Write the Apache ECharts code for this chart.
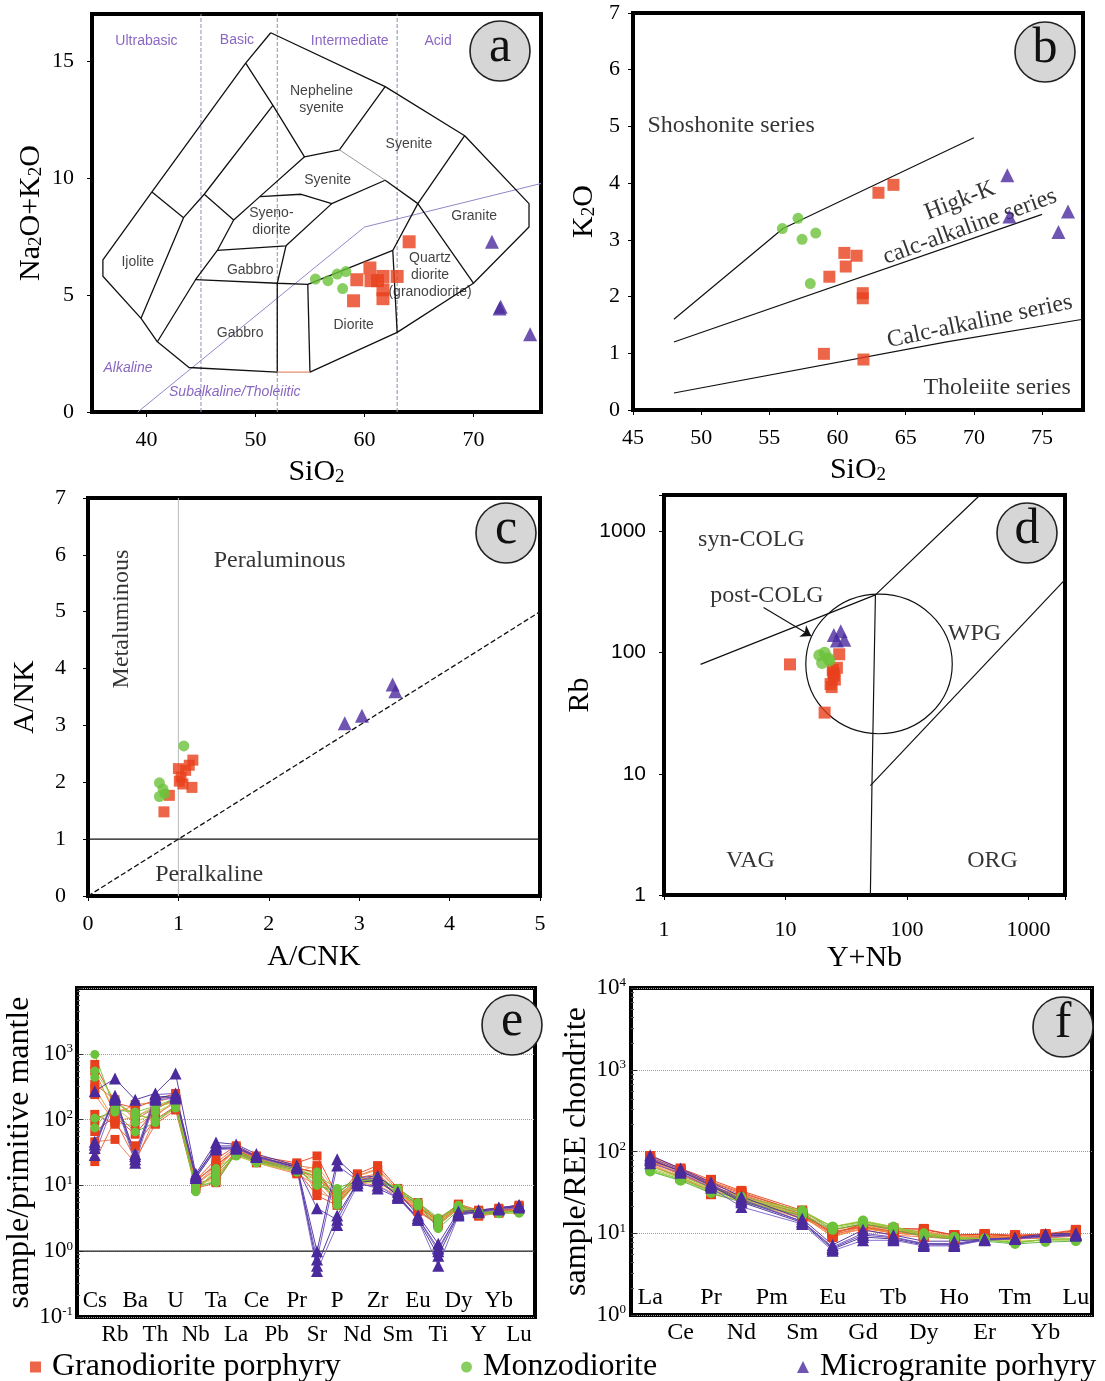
<!DOCTYPE html>
<html>
<head>
<meta charset="utf-8">
<title>Geochemical diagrams</title>
<script src="https://cdn.jsdelivr.net/npm/echarts@6.0.0/dist/echarts.min.js"></script>
<style>
  html, body { margin: 0; padding: 0; background: #fff; }
  #chart { width: 1105px; height: 1381px; }
</style>
</head>
<body>
<div id="chart"></div>
<script>
// ---------- values ----------
const G1 = 'Granodiorite porphyry', G2 = 'Monzodiorite', G3 = 'Microgranite porhyry';

// (a) TAS (Middlemost plutonic)
const tasGrano = [[64.1, 7.27], [60.5, 6.15], [59.3, 5.65], [60.6, 5.61], [61.7, 5.79], [63.0, 5.79], [61.7, 5.22], [61.7, 4.84], [59.0, 4.75], [61.2, 5.61]];
const tasMonzo = [[55.5, 5.68], [56.65, 5.61], [57.5, 5.89], [58.3, 6.0], [58.0, 5.27]];
const tasMicro = [[71.7, 7.27], [72.5, 4.5], [72.4, 4.42], [75.2, 3.32]];
const tasLines = [
  [[51.4, 16.2], [61.9, 13.9], [69.2, 11.8], [75.1, 8.9], [75.1, 7.9], [70, 5.5], [63, 3.4], [55, 1.7]],
  [[52, 1.7], [43.9, 1.9], [41, 3.0], [39.5, 4.0], [36, 5.8], [36, 6.5], [40.5, 9.4], [49.1, 14.9], [51.4, 16.2]],
  [[49.1, 14.9], [51.6, 13.1], [54.5, 10.9], [57.7, 11.2], [61.9, 13.9]],
  [[51.6, 13.1], [45.3, 9.3], [43.4, 8.3], [39.5, 4.0]],
  [[40.5, 9.4], [43.4, 8.3]],
  [[45.3, 9.3], [48, 8.2]],
  [[54.5, 10.9], [50.4, 9.2], [48, 8.2], [46.5, 6.9], [44.5, 5.65], [41, 3.0]],
  [[50.4, 9.2], [54.2, 9.3], [57, 8.9], [61.9, 9.9], [64.9, 8.9], [70, 5.5]],
  [[69.2, 11.8], [64.9, 8.9], [62.6, 6.9], [63, 3.4]],
  [[46.5, 6.9], [52.8, 7.1], [57, 8.9]],
  [[52.8, 7.1], [52, 5.5]],
  [[44.5, 5.65], [52, 5.5], [54.8, 5.45], [62.6, 6.9]],
  [[52, 5.5], [52, 1.7]],
  [[54.8, 5.45], [55, 1.7]]
];
const tasGreyLine = [[57.7, 11.2], [61.9, 9.9]];
const tasBaseLine = [[52, 1.7], [55, 1.7]];
const tasAlkaline = [[39.2, 0], [60, 7.9], [76.2, 9.76]];
const tasDivides = [45, 52, 63];
const tasZones = [['Ultrabasic', 40.0, 15.84], ['Basic', 48.3, 15.88], ['Intermediate', 58.65, 15.84], ['Acid', 66.76, 15.84]];
const tasAlkNames = [['Alkaline', 38.3, 1.89], ['Subalkaline/Tholeiitic', 48.1, 0.86]];
const tasRocks = [
  ['Nepheline\nsyenite', 56.06, 13.35], ['Syenite', 64.08, 11.42], ['Syenite', 56.62, 9.91],
  ['Syeno-\ndiorite', 51.46, 8.15], ['Ijolite', 39.2, 6.39], ['Gabbro', 49.52, 6.05],
  ['Gabbro', 48.6, 3.35], ['Diorite', 59.01, 3.73], ['Quartz\ndiorite\n(granodiorite)', 66.02, 5.84],
  ['Granite', 70.07, 8.37]
];

// (b) SiO2 - K2O
const kGrano = [[63.0, 3.83], [64.1, 3.97], [60.5, 2.77], [61.4, 2.72], [60.6, 2.53], [59.4, 2.35], [61.85, 2.06], [61.85, 1.97], [59.0, 0.99], [61.9, 0.89]];
const kMonzo = [[55.95, 3.2], [57.1, 3.38], [57.4, 3.01], [58.4, 3.12], [58.0, 2.23]];
const kMicro = [[72.45, 4.14], [72.6, 3.41], [76.9, 3.5], [76.2, 3.14]];
const kLines = [[[48, 1.6], [56, 3.2], [70, 4.8]], [[48, 1.2], [75, 3.45]], [[48, 0.3], [68, 1.2], [78, 1.6]]];
const kNames = [['Shoshonite series', 52.2, 5.01, 0], ['Higk-K', 68.97, 3.69, 21], ['calc-alkaline series', 69.7, 3.23, 20], ['Calc-alkaline series', 70.43, 1.56, 12], ['Tholeiite series', 71.7, 0.4, 0]];

// (c) A/CNK - A/NK
const acGrano = [[1.16, 2.39], [1.0, 2.24], [1.08, 2.21], [1.03, 2.09], [1.05, 1.97], [1.15, 1.91], [0.9, 1.77], [0.84, 1.48], [1.12, 2.3], [1.01, 2.02]];
const acMonzo = [[0.79, 1.99], [0.83, 1.88], [0.79, 1.75], [0.85, 1.8], [1.06, 2.64]];
const acMicro = [[2.84, 3.04], [3.03, 3.17], [3.37, 3.72], [3.4, 3.6]];
const acNames = [['Peraluminous', 2.12, 5.9, 0], ['Metaluminous', 0.37, 4.87, 90], ['Peralkaline', 1.34, 0.38, 0]];

// (d) Y+Nb - Rb
const dGrano = [[10.9, 80], [27.7, 97], [21, 32], [24.5, 72], [25.5, 60], [24, 52], [25, 65], [23.5, 55], [26.5, 75], [24.8, 68]];
const dMonzo = [[19, 95], [21, 100], [22.5, 90], [20, 82], [23, 86]];
const dMicro = [[25, 140], [28.5, 150], [26.5, 126], [30.5, 128]];
const dLines = [[[2, 80], [55, 300], [400, 2000]], [[55, 300], [51.5, 8], [50, 1]], [[50, 8], [2000, 400]]];
const dArrow = [[6.6, 236], [16.3, 137]];
const dCircleCenter = [58.9, 80.7], dCircleLeft = [14.7, 80.7], dCircleTop = [58.9, 304];
const dNames = [['syn-COLG', 5.24, 852], ['post-COLG', 7.05, 293], ['WPG', 360, 142], ['VAG', 5.15, 1.91], ['ORG', 507, 1.91]];

// (e) primitive-mantle normalised spider diagram (Pb not plotted)
const elemsE = ['Cs', 'Rb', 'Ba', 'Th', 'U', 'Nb', 'Ta', 'La', 'Ce', 'Pb', 'Pr', 'Sr', 'P', 'Nd', 'Zr', 'Sm', 'Eu', 'Ti', 'Dy', 'Y', 'Yb', 'Lu'];
const eGrano = [
  [690, 180, 150, 200, 250, 12, 25, 40, 28, null, 22, 28, 7, 15, 20, 9, 5.5, 3.0, 5.2, 4.2, 4.5, 5.0],
  [550, 120, 170, 180, 230, 11, 22, 38, 27, null, 20, 18, 6, 14, 18, 8.5, 5.0, 2.8, 5.0, 4.0, 4.2, 4.8],
  [345, 200, 100, 150, 200, 10, 20, 36, 26, null, 19, 15, 6.5, 13, 15, 8, 4.8, 2.6, 4.8, 3.8, 4.0, 4.5],
  [240, 90, 80, 120, 180, 10, 18, 35, 25, null, 18, 12, 5.5, 12, 13, 8, 4.5, 2.7, 4.6, 3.6, 4.0, 4.4],
  [120, 85, 40, 100, 160, 9, 15, 33, 24, null, 17, 7, 5, 12, 12, 7.5, 4.2, 2.5, 4.5, 3.5, 3.8, 4.2],
  [94, 150, 130, 90, 150, 11, 12, 32, 23, null, 16, 20, 7.5, 13, 11, 7.5, 4.5, 2.8, 4.8, 3.7, 3.9, 4.3],
  [66, 110, 60, 140, 220, 12, 20, 34, 25, null, 18, 16, 6, 12, 14, 8, 4.8, 2.9, 5.0, 3.9, 4.1, 4.6],
  [46, 50, 22, 110, 200, 10, 14, 30, 22, null, 15, 10, 5, 11, 10, 7, 4.0, 2.5, 4.4, 3.4, 3.8, 4.2],
  [23, 100, 25, 85, 140, 9, 11, 31, 23, null, 16, 14, 5.5, 11, 12, 7, 4.2, 2.6, 4.5, 3.6, 3.9, 4.3],
  [300, 95, 110, 160, 190, 11, 17, 37, 26, null, 21, 8, 6, 14, 17, 8.5, 5.0, 2.9, 5.1, 4.1, 4.3, 4.7]
];
const eMonzo = [
  [980, 140, 130, 160, 210, 9, 16, 30, 23, null, 17, 14, 9, 12, 13, 9, 5.5, 3.2, 5.0, 4.0, 4.0, 4.0],
  [550, 200, 110, 150, 190, 8, 18, 29, 22, null, 16, 12, 6, 11, 12, 8.5, 5.0, 3.0, 4.6, 3.8, 3.8, 3.8],
  [440, 150, 90, 130, 180, 9, 14, 28, 22, null, 16, 16, 5, 11, 11, 8, 4.8, 2.6, 4.4, 3.6, 3.7, 3.8],
  [105, 130, 65, 90, 160, 10, 11, 32, 24, null, 18, 10, 8, 12, 12, 8.5, 5.2, 2.2, 4.2, 3.7, 3.9, 4.0],
  [75, 180, 120, 100, 150, 9, 12, 33, 25, null, 18, 13, 7, 12, 12, 9, 5.4, 2.9, 4.8, 3.9, 4.0, 4.1]
];
const eMicro = [
  [270, 420, 200, 250, 500, 15, 45, 42, 30, null, 20, 1.0, 25, 13, 14, 8, 3.5, 1.3, 4.0, 4.2, 4.6, 5.0],
  [46, 220, 30, 240, 250, 14, 40, 40, 28, null, 19, 0.75, 20, 12, 13, 7, 3.2, 1.0, 3.8, 4.0, 4.5, 4.9],
  [42, 210, 25, 220, 230, 14, 38, 38, 27, null, 19, 0.6, 3.5, 11, 12, 7, 3.0, 0.85, 3.6, 4.0, 4.4, 4.8],
  [29, 200, 22, 200, 210, 13, 35, 36, 27, null, 18, 0.5, 2.5, 10, 10, 6.5, 3.0, 0.6, 3.5, 3.9, 4.3, 4.6],
  [37, 230, 28, 210, 220, 13, 36, 37, 28, null, 19, 4.5, 3.0, 11, 9, 6.5, 3.2, 1.1, 3.7, 4.1, 4.5, 5.0]
];

// (f) chondrite-normalised REE (Pm not plotted)
const elemsF = ['La', 'Ce', 'Pr', 'Nd', 'Pm', 'Sm', 'Eu', 'Gd', 'Tb', 'Dy', 'Ho', 'Er', 'Tm', 'Yb', 'Lu'];
const fGrano = [
  [88, 62, 45, 33, null, 19, 11, 13, 11, 11, 9.5, 9.8, 9.5, 9.8, 11],
  [85, 60, 43, 32, null, 18, 10, 12.5, 10.5, 10.5, 9.2, 9.5, 9.3, 9.5, 10.5],
  [80, 58, 40, 30, null, 17, 9.5, 12, 10, 10, 9, 9.2, 9, 9.3, 10],
  [78, 55, 38, 28, null, 16.5, 9, 11.5, 10, 9.5, 8.8, 9, 8.8, 9, 9.8],
  [75, 52, 36, 27, null, 16, 10.5, 12, 10.5, 9.8, 8.5, 8.8, 8.6, 8.8, 9.5],
  [72, 50, 30, 25, null, 15, 11, 12.5, 11, 10.5, 9, 9.5, 9, 9, 10],
  [82, 57, 42, 31, null, 18, 9.8, 13, 11.5, 11.3, 9.5, 9.7, 9.2, 9.6, 10.8],
  [70, 48, 34, 26, null, 15.5, 10, 11, 9.5, 9, 8.5, 8.5, 8.5, 8.7, 9.2],
  [76, 53, 37, 29, null, 17, 10.2, 12, 10, 9.7, 8.7, 9, 8.8, 9.1, 9.6],
  [68, 47, 33, 27, null, 16, 9.2, 11.5, 10.2, 9.3, 8.6, 8.8, 8.7, 8.9, 9.3]
];
const fMonzo = [
  [60, 46, 33, 26, null, 18, 12, 14, 12, 10, 9, 8.5, 7.5, 8.5, 8.5],
  [58, 45, 32, 25, null, 17, 11.5, 13.5, 11.5, 9.5, 8.8, 8.2, 7.8, 8.2, 8.2],
  [62, 48, 35, 27, null, 18.5, 12, 14.3, 12, 9.8, 9, 8.6, 8, 8.3, 8.4],
  [57, 44, 31, 24, null, 16.5, 11, 13, 11, 9.2, 8.5, 8, 7.4, 7.8, 8],
  [65, 50, 36, 28, null, 19, 12, 13.8, 11.8, 9.6, 8.9, 8.4, 7.7, 8.4, 8.6]
];
const fMicro = [
  [90, 62, 42, 28, null, 15, 7.2, 11, 9.5, 8, 8, 8.5, 8.8, 9.8, 10],
  [84, 60, 40, 26, null, 14, 6.8, 10, 9, 7.5, 7.5, 8.5, 8.7, 9.5, 9.8],
  [78, 58, 38, 24, null, 13.5, 6.4, 9, 8.5, 7.2, 7.2, 8.3, 8.6, 9.3, 9.5],
  [72, 55, 36, 21, null, 13, 6.1, 8.2, 8.2, 7, 7, 8.2, 8.5, 9, 9.3],
  [80, 57, 39, 25, null, 14, 6.6, 9.5, 8.8, 7.4, 7.3, 8.4, 8.6, 9.4, 9.6]
];

// ---------- styling ----------
const SERIF = "'Liberation Serif', 'Times New Roman', serif";
const SANS = "'Liberation Sans', Arial, sans-serif";
const RED = '#e8401c', GREEN = '#6cc23a', BLUE = '#4b2a9e', PURPLE = '#6a3fb0';
const redLines = ['#e8401c', '#f26b2c', '#ea5a3a', '#f08040', '#e0502a', '#f5a050', '#d8401a', '#ef7050', '#e86030', '#f09040'];
const greenLines = ['#6cc23a', '#9ccc3c', '#b8c840', '#5ab040', '#88c030'];
const blueLines = ['#4a2a9c', '#6a4ab8', '#3a2a8c', '#7a5ac8', '#5a3aac'];

function boundary(gi, pts, color, width, type) {
  return {
    type: 'line', xAxisIndex: gi, yAxisIndex: gi, data: pts, symbol: 'none', silent: true, z: 2,
    lineStyle: { color: color || '#000', width: width || 1.2, type: type || 'solid' }
  };
}
function samples(gi, name, pts, symbol, size, color) {
  return {
    type: 'scatter', name: name, xAxisIndex: gi, yAxisIndex: gi, data: pts,
    symbol: symbol, symbolSize: size, itemStyle: { color: color }, silent: true, z: 5
  };
}
function texts(gi, items, style) {
  return {
    type: 'scatter', xAxisIndex: gi, yAxisIndex: gi, symbolSize: 1, silent: true, z: 4,
    itemStyle: { color: 'rgba(0,0,0,0)' },
    data: items.map(t => ({ name: t[0], value: [t[1], t[2]], label: t[3] ? { rotate: t[3] } : {} })),
    label: Object.assign({ show: true, position: 'inside', formatter: p => p.name, color: '#000' }, style)
  };
}
function spider(gi, name, rows, symbol, size, color, lineColors) {
  return rows.map((row, i) => ({
    type: 'line', name: name, xAxisIndex: gi, yAxisIndex: gi,
    data: row.map((v, j) => [j, v]), connectNulls: true,
    symbol: symbol, symbolSize: size, itemStyle: { color: color },
    lineStyle: { color: lineColors[i % lineColors.length], width: 0.9 }, silent: true, z: 3
  }));
}

const nameStyle = {
  fontFamily: SERIF, fontSize: 30, color: '#000',
  rich: {
    n: { fontFamily: SERIF, fontSize: 30, color: '#000', lineHeight: 30, verticalAlign: 'top' },
    s: { fontFamily: SERIF, fontSize: 19, color: '#000', lineHeight: 19, verticalAlign: 'bottom', padding: [16, 0, 0, 0] }
  }
};
const tickLabel = (size, margin, extra) => Object.assign({ color: '#000', fontFamily: SERIF, fontSize: size, margin: margin }, extra || {});
const isPow10 = v => Math.abs(Math.log10(v) - Math.round(Math.log10(v))) < 1e-6;
const powLabel = (maxExp) => v => {
  if (!isPow10(v)) return '';
  const e = Math.round(Math.log10(v));
  return e > maxExp ? '' : '{b|10}{p|' + e + '}';
};
const powRich = { b: { fontFamily: SERIF, fontSize: 23, color: '#000' }, p: { fontFamily: SERIF, fontSize: 13, color: '#000', verticalAlign: 'top' } };
const tick = { show: true, length: 5, lineStyle: { color: '#000', width: 1 } };
const noLine = { show: false, onZero: false };

function range(a, b, s) { const r = []; for (let v = a; v <= b + 1e-9; v += s) r.push(v); return r; }

const xAxis = [
  { gridIndex: 0, type: 'value', position: 'bottom', min: 35, max: 76.2, axisLine: noLine, splitLine: { show: false },
    axisTick: Object.assign({ customValues: [40, 50, 60, 70] }, tick),
    axisLabel: tickLabel(22, 17, { customValues: [40, 50, 60, 70] }),
    name: '{n|SiO}{s|2}', nameLocation: 'middle', nameGap: 42, nameTextStyle: nameStyle },
  { gridIndex: 1, type: 'value', position: 'bottom', min: 45, max: 78, axisLine: noLine, splitLine: { show: false },
    axisTick: Object.assign({ customValues: range(45, 75, 5) }, tick),
    axisLabel: tickLabel(22, 17, { customValues: range(45, 75, 5) }),
    name: '{n|SiO}{s|2}', nameLocation: 'middle', nameGap: 42, nameTextStyle: nameStyle },
  { gridIndex: 2, type: 'value', position: 'bottom', min: 0, max: 5, interval: 1, axisLine: noLine, splitLine: { show: false },
    axisTick: tick, axisLabel: tickLabel(22, 17),
    name: 'A/CNK', nameLocation: 'middle', nameGap: 46, nameTextStyle: nameStyle },
  { gridIndex: 3, type: 'log', position: 'bottom', min: 1, max: 2000, axisLine: noLine, splitLine: { show: false },
    axisTick: tick, axisLabel: tickLabel(22, 24, { formatter: v => isPow10(v) ? String(Math.round(v)) : '' }),
    name: 'Y+Nb', nameLocation: 'middle', nameGap: 48, nameTextStyle: nameStyle },
  { gridIndex: 4, type: 'value', position: 'bottom', min: -0.88, max: 21.79, axisLine: noLine, splitLine: { show: false },
    axisTick: { show: false },
    axisLabel: tickLabel(23, 6, { customValues: range(1, 21, 2), formatter: v => elemsE[Math.round(v)] }) },
  { gridIndex: 5, type: 'value', position: 'bottom', min: -0.63, max: 14.53, axisLine: noLine, splitLine: { show: false },
    axisTick: { show: false },
    axisLabel: tickLabel(24, 6, { customValues: range(1, 13, 2), formatter: v => elemsF[Math.round(v)] }) },
  { gridIndex: 4, type: 'value', position: 'bottom', min: -0.88, max: 21.79, axisLine: noLine, splitLine: { show: false },
    axisTick: { show: false },
    axisLabel: tickLabel(23, 5, { inside: true, customValues: range(0, 20, 2), formatter: v => elemsE[Math.round(v)] }) },
  { gridIndex: 5, type: 'value', position: 'bottom', min: -0.63, max: 14.53, axisLine: noLine, splitLine: { show: false },
    axisTick: { show: false },
    axisLabel: tickLabel(24, 5, { inside: true, customValues: range(0, 14, 2), formatter: v => elemsF[Math.round(v)] }) }
];

const yAxis = [
  { gridIndex: 0, type: 'value', position: 'left', min: 0, max: 17, axisLine: noLine, splitLine: { show: false },
    axisTick: Object.assign({ customValues: [0, 5, 10, 15] }, tick),
    axisLabel: tickLabel(22, 18, { customValues: [0, 5, 10, 15] }),
    name: '{n|Na}{s|2}{n|O+K}{s|2}{n|O}', nameLocation: 'middle', nameGap: 46, nameTextStyle: nameStyle },
  { gridIndex: 1, type: 'value', position: 'left', min: 0, max: 7, interval: 1, axisLine: noLine, splitLine: { show: false },
    axisTick: tick, axisLabel: tickLabel(22, 13),
    name: '{n|K}{s|2}{n|O}', nameLocation: 'middle', nameGap: 34, nameTextStyle: nameStyle },
  { gridIndex: 2, type: 'value', position: 'left', min: 0, max: 7, interval: 1, axisLine: noLine, splitLine: { show: false },
    axisTick: tick, axisLabel: tickLabel(22, 22),
    name: 'A/NK', nameLocation: 'middle', nameGap: 48, nameTextStyle: nameStyle },
  { gridIndex: 3, type: 'log', position: 'left', min: 1, max: 2000, axisLine: noLine, splitLine: { show: false },
    axisTick: tick,
    axisLabel: { color: '#000', fontFamily: SANS, fontSize: 21, margin: 18, formatter: v => isPow10(v) ? String(Math.round(v)) : '' },
    name: 'Rb', nameLocation: 'middle', nameGap: 58, nameTextStyle: nameStyle },
  { gridIndex: 4, type: 'log', position: 'left', min: 0.1, max: 10000, axisLine: noLine,
    splitLine: { show: true, lineStyle: { color: '#999', type: 'dotted', width: 1 } },
    axisTick: { show: true, inside: true, length: 6, lineStyle: { color: '#333' } },
    minorTick: { show: true, splitNumber: 8, length: 3, lineStyle: { color: '#555' } },
    axisLabel: { margin: 4, formatter: powLabel(3), rich: powRich },
    name: 'sample/primitive mantle', nameLocation: 'middle', nameGap: 32, nameTextStyle: Object.assign({}, nameStyle, { fontSize: 32 }) },
  { gridIndex: 5, type: 'log', position: 'left', min: 1, max: 10000, axisLine: noLine,
    splitLine: { show: true, lineStyle: { color: '#999', type: 'dotted', width: 1 } },
    axisTick: { show: true, inside: true, length: 6, lineStyle: { color: '#333' } },
    minorTick: { show: true, splitNumber: 8, length: 3, lineStyle: { color: '#555' } },
    axisLabel: { margin: 5, formatter: powLabel(4), rich: powRich },
    name: 'sample/REE chondrite', nameLocation: 'middle', nameGap: 24, nameTextStyle: Object.assign({}, nameStyle, { fontSize: 32 }) }
];

const frame = { show: true, borderColor: '#000', borderWidth: 4, backgroundColor: 'transparent' };
const grid = [
  Object.assign({ left: 92, top: 14, width: 449, height: 398 }, frame),
  Object.assign({ left: 633, top: 13, width: 450, height: 397 }, frame),
  Object.assign({ left: 88, top: 498, width: 452, height: 398 }, frame),
  Object.assign({ left: 664, top: 495, width: 401, height: 400 }, frame),
  Object.assign({ left: 77, top: 988, width: 458, height: 329 }, frame),
  Object.assign({ left: 631, top: 988, width: 461, height: 327 }, frame)
];

const annot = { fontFamily: SERIF, fontSize: 24, color: '#000' };
const series = [
  samples(0, G1, tasGrano, 'rect', 13, RED),
  samples(0, G2, tasMonzo, 'circle', 11, GREEN),
  samples(0, G3, tasMicro, 'triangle', 14, BLUE)
];
// (a) boundaries and names
tasDivides.forEach(x => series.push(boundary(0, [[x, 0], [x, 17]], '#9090b0', 1, 'dashed')));
series.push(boundary(0, tasAlkaline, '#8f88c8', 1));
tasLines.forEach(l => series.push(boundary(0, l, '#111', 1.3)));
series.push(boundary(0, tasGreyLine, '#999', 1));
series.push(boundary(0, tasBaseLine, '#e09070', 1.2));
series.push(texts(0, tasZones, { fontFamily: SANS, fontSize: 14, color: PURPLE }));
series.push(texts(0, tasAlkNames, { fontFamily: SANS, fontSize: 14, color: PURPLE, fontStyle: 'italic' }));
series.push(texts(0, tasRocks, { fontFamily: SANS, fontSize: 14, color: '#111', lineHeight: 17 }));

// (b)
kLines.forEach(l => series.push(boundary(1, l, '#111', 1.2)));
series.push(texts(1, kNames, annot));
series.push(samples(1, G1, kGrano, 'rect', 12, RED));
series.push(samples(1, G2, kMonzo, 'circle', 11, GREEN));
series.push(samples(1, G3, kMicro, 'triangle', 14, BLUE));

// (c)
series.push(boundary(2, [[1, 0], [1, 7]], '#bbb', 1));
series.push(boundary(2, [[0, 1], [5, 1]], '#111', 1.3));
series.push(boundary(2, [[0, 0], [5, 5]], '#111', 1.3, 'dashed'));
series.push(texts(2, acNames, annot));
series.push(samples(2, G1, acGrano, 'rect', 11, RED));
series.push(samples(2, G2, acMonzo, 'circle', 11, GREEN));
series.push(samples(2, G3, acMicro, 'triangle', 14, BLUE));

// (d)
dLines.forEach(l => series.push(boundary(3, l, '#111', 1.2)));
series[series.length - 1].markLine = {
  silent: true, symbol: ['none', 'arrow'], symbolSize: 10, label: { show: false },
  lineStyle: { color: '#111', width: 1.2, type: 'solid' },
  data: [[{ coord: dArrow[0] }, { coord: dArrow[1] }]]
};
series.push(texts(3, dNames, annot));
series.push(samples(3, G1, dGrano, 'rect', 12, RED));
series.push(samples(3, G2, dMonzo, 'circle', 12, GREEN));
series.push(samples(3, G3, dMicro, 'triangle', 14, BLUE));

// (e)
series.push(boundary(4, [[-0.88, 1], [21.79, 1]], '#222', 1.2));
spider(4, G1, eGrano, 'rect', 9, RED, redLines).forEach(s => series.push(s));
spider(4, G2, eMonzo, 'circle', 9, GREEN, greenLines).forEach(s => series.push(s));
spider(4, G3, eMicro, 'triangle', 12, BLUE, blueLines).forEach(s => series.push(s));

// (f)
spider(5, G1, fGrano, 'rect', 10, RED, redLines).forEach(s => series.push(s));
spider(5, G2, fMonzo, 'circle', 10, GREEN, greenLines).forEach(s => series.push(s));
spider(5, G3, fMicro, 'triangle', 12, BLUE, blueLines).forEach(s => series.push(s));

const legendText = { fontFamily: SERIF, fontSize: 32, color: '#000', padding: [0, 0, 0, 6] };
const legend = [
  { data: [{ name: G1, icon: 'rect' }], left: 25, top: 1346, itemWidth: 11, itemHeight: 11, selectedMode: false, textStyle: legendText },
  { data: [{ name: G2, icon: 'circle' }], left: 456, top: 1346, itemWidth: 11, itemHeight: 11, selectedMode: false, textStyle: legendText },
  { data: [{ name: G3, icon: 'triangle' }], left: 792, top: 1346, itemWidth: 12, itemHeight: 12, selectedMode: false, textStyle: legendText }
];

const chart = echarts.init(document.getElementById('chart'));
chart.setOption({
  animation: false,
  backgroundColor: '#fff',
  textStyle: { fontFamily: SERIF },
  grid: grid, xAxis: xAxis, yAxis: yAxis, legend: legend, series: series
});

// panel tags and the post-COLG circle of (d)
function tag(cx, cy, letter) {
  return {
    type: 'group', x: cx, y: cy, z: 20, children: [
      { type: 'circle', shape: { cx: 0, cy: 0, r: 30 }, style: { fill: '#d6d6d6', stroke: '#222', lineWidth: 1.6 } },
      { type: 'text', style: { text: letter, x: 0, y: -3, align: 'center', verticalAlign: 'middle', font: "50px 'Liberation Serif', serif", fill: '#111' } }
    ]
  };
}
const dRef = { xAxisIndex: 3, yAxisIndex: 3 };
const c0 = chart.convertToPixel(dRef, dCircleCenter);
const cl = chart.convertToPixel(dRef, dCircleLeft);
const ct = chart.convertToPixel(dRef, dCircleTop);
chart.setOption({
  graphic: [
    tag(500, 51, 'a'), tag(1045, 52, 'b'), tag(506, 533, 'c'),
    tag(1027, 533, 'd'), tag(512, 1025, 'e'), tag(1063, 1027, 'f'),
    { type: 'ellipse', z: 3, shape: { cx: c0[0], cy: c0[1], rx: c0[0] - cl[0], ry: c0[1] - ct[1] },
      style: { fill: 'none', stroke: '#111', lineWidth: 1.2 } }
  ]
});
</script>
</body>
</html>
